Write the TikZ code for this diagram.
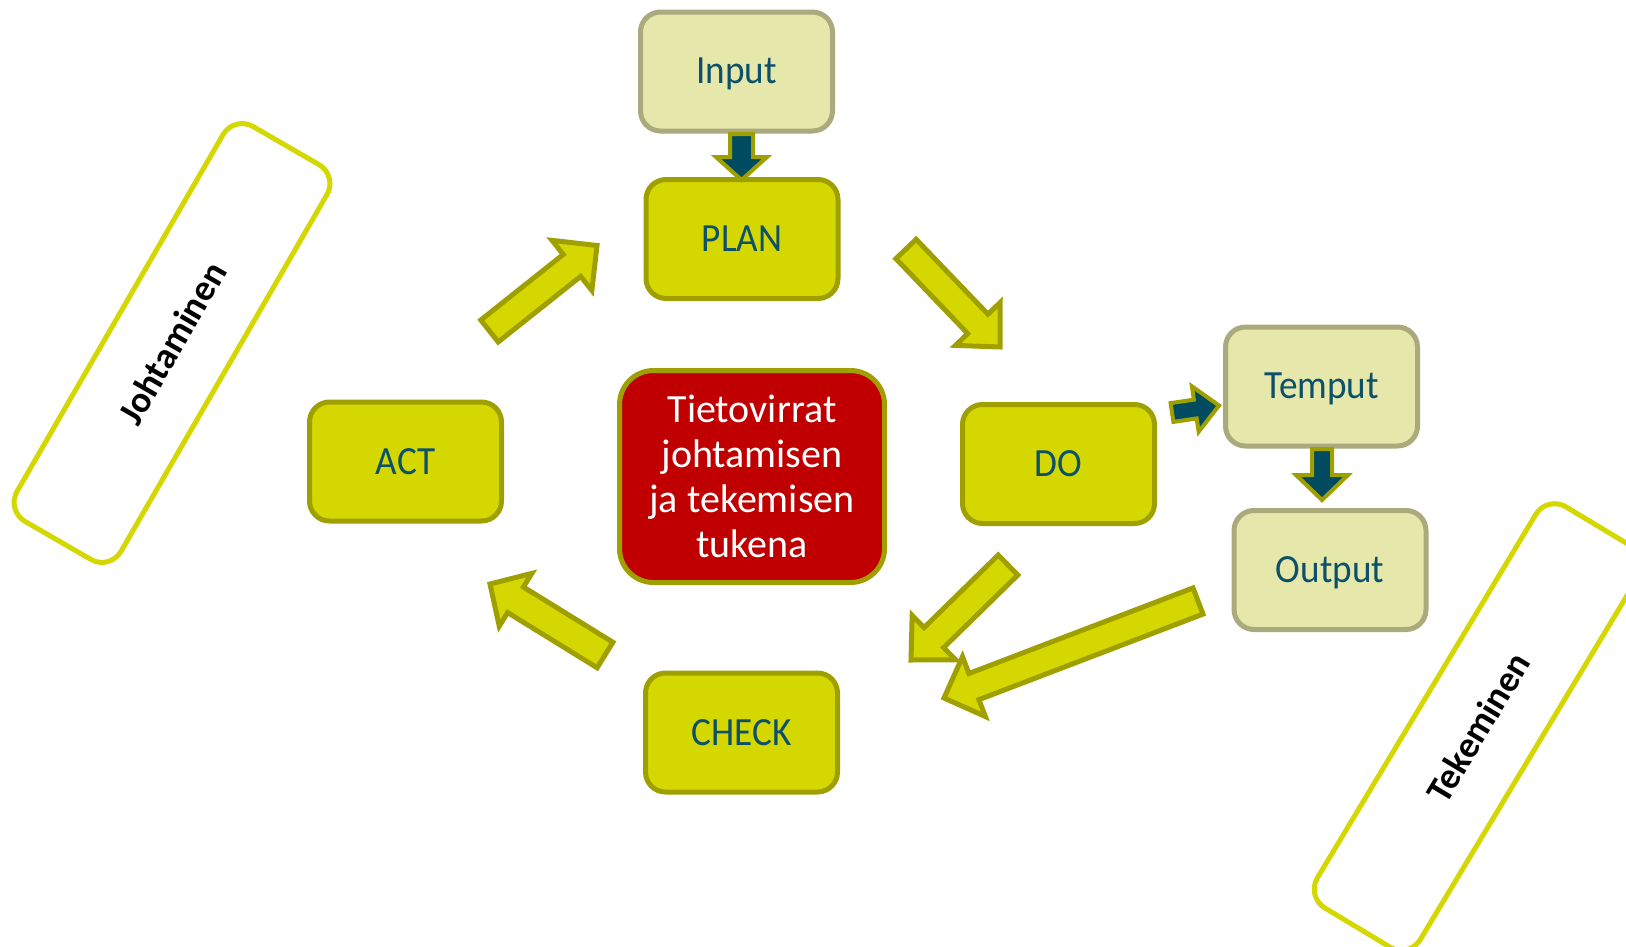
\documentclass[tikz,border=0pt]{standalone}
\usepackage{fontspec}
\setmainfont{Carlito}
\newfontfamily\boxfont[FakeStretch=0.93]{Carlito}
\usetikzlibrary{calc}
\definecolor{ylw}{HTML}{D4D800}
\definecolor{olv}{HTML}{9FA000}
\definecolor{lite}{HTML}{E5E8AA}
\definecolor{litebd}{HTML}{AAAA7D}
\definecolor{dteal}{HTML}{004B60}
\definecolor{txt}{HTML}{0D5069}
\definecolor{redb}{HTML}{C00000}
\newcommand\blkarrow[6]{%
  \coordinate (bah) at ($(#3)!#6!(#2)$);
  \draw[#1] ($(#2)!#4!90:(#3)$) -- ($(bah)!#4!90:(#3)$) -- ($(bah)!#5!90:(#3)$) -- (#3)
    -- ($(bah)!#5!-90:(#3)$) -- ($(bah)!#4!-90:(#3)$) -- ($(#2)!#4!-90:(#3)$) -- cycle;
}
\begin{document}
\begin{tikzpicture}[x=1pt,y=-1pt,
  mainbox/.style={draw=olv, fill=ylw, line width=5pt, rounded corners=20pt,
    minimum width=192pt, minimum height=119pt, inner sep=0pt, text=txt,
    font=\boxfont\fontsize{40}{45}\selectfont},
  litebox/.style={mainbox, draw=litebd, fill=lite, text height=32pt, text depth=8pt},
  centerbox/.style={draw=olv, fill=redb, line width=5pt, rounded corners=34pt,
    minimum width=265pt, minimum height=212pt, inner sep=0pt, text=white, align=center,
    font=\fontsize{40}{45}\selectfont},
  bigarrow/.style={draw=olv, fill=ylw, line width=5pt, line join=miter},
  smallarrow/.style={draw=olv, fill=dteal, line width=4pt, line join=miter},
  sidebox/.style={draw=ylw, fill=white, line width=5pt, rounded corners=22pt,
    minimum height=120pt, inner sep=0pt,
    font=\bfseries\fontsize{37}{44}\selectfont}
]
\clip (0,0) rectangle (1626,946);
\fill[white] (0,0) rectangle (1626,946);

% side boxes
\node[sidebox, minimum width=456pt, rotate=60] (johto) at (172,343) {Johtaminen};
\node[sidebox, minimum width=468pt, rotate=59] (teke) at (1478,727) {Tekeminen};

% boxes
\node[litebox] (input) at (736.5,71.5) {Input};
\node[mainbox] (plan) at (742,239) {PLAN};
\node[mainbox] (act) at (405.5,461.5) {ACT};
\node[mainbox] (do) at (1058.5,464) {DO};
\node[mainbox] (check) at (741.5,732.5) {CHECK};
\node[litebox] (temput) at (1321.5,386.5) {Temput};
\node[litebox] (output) at (1330,570) {Output};
\node[centerbox] (center) at (752,476.5) {Tietovirrat\\johtamisen\\ja tekemisen\\tukena};

% arrow end points
\coordinate (a1t) at (489.5,331);   \coordinate (a1p) at (597,245.5);
\coordinate (a2t) at (906,249);     \coordinate (a2p) at (1000,347);
\coordinate (a3t) at (1008,565);    \coordinate (a3p) at (911,660);
\coordinate (a4t) at (1198,601);    \coordinate (a4p) at (944,698);
\coordinate (a5t) at (605,655);     \coordinate (a5p) at (490,584);
\coordinate (b1t) at (741.5,134);   \coordinate (b1p) at (741.5,180);
\coordinate (b2t) at (1322,449);    \coordinate (b2p) at (1322,500);
\coordinate (b3t) at (1172,412.5);  \coordinate (b3p) at (1219,405.5);

% big block arrows
\blkarrow{bigarrow}{a1t}{a1p}{14pt}{32pt}{32pt}
\blkarrow{bigarrow}{a2t}{a2p}{14pt}{31pt}{32pt}
\blkarrow{bigarrow}{a3t}{a3p}{14pt}{31pt}{32pt}
\blkarrow{bigarrow}{a4t}{a4p}{14pt}{32pt}{32pt}
\blkarrow{bigarrow}{a5t}{a5p}{15pt}{31pt}{30pt}

% small dark arrows
\blkarrow{smallarrow}{b1t}{b1p}{11.5pt}{25.5pt}{23pt}
\blkarrow{smallarrow}{b2t}{b2p}{10pt}{26pt}{25pt}
\blkarrow{smallarrow}{b3t}{b3p}{9.5pt}{23pt}{24pt}
\end{tikzpicture}
\end{document}
